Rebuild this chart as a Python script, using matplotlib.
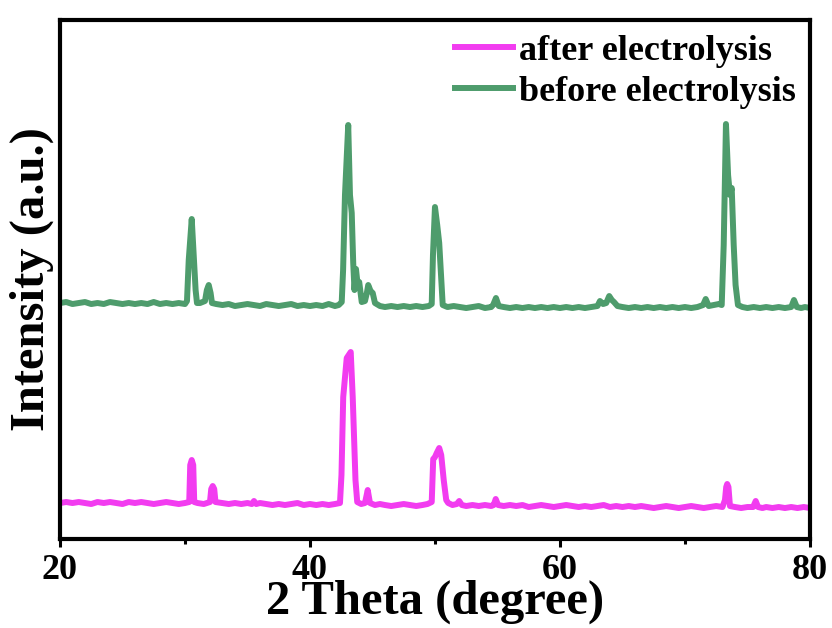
import matplotlib.pyplot as plt
import numpy as np

# 2 theta (degree) / intensity (a.u.) points
before_x = [20.0, 20.5, 21.0, 21.5, 22.0, 22.5, 23.0, 23.5, 24.0, 24.5, 25.0, 25.5, 26.0,
            26.5, 27.0, 27.5, 28.0, 28.5, 29.0, 29.5, 30.0, 30.16, 30.3, 30.54, 30.72,
            30.85, 30.96, 31.2, 31.6, 31.75, 31.9, 32.05, 32.16, 32.5, 33.0, 33.5, 34.0,
            34.5, 35.0, 35.5, 36.0, 36.5, 37.0, 37.5, 38.0, 38.5, 39.0, 39.5, 40.0, 40.5,
            41.0, 41.5, 42.0, 42.3, 42.54, 42.65, 42.8, 43.06, 43.2, 43.34, 43.46, 43.56,
            43.68, 43.8, 43.94, 44.14, 44.4, 44.55, 44.66, 44.85, 45.02, 45.2, 45.6, 46.0,
            46.5, 47.0, 47.5, 48.0, 48.5, 49.0, 49.5, 49.74, 49.84, 50.0, 50.18, 50.34,
            50.48, 50.62, 51.0, 51.5, 52.0, 52.5, 53.0, 53.5, 54.0, 54.5, 54.65, 54.88,
            55.1, 55.5, 56.0, 56.5, 57.0, 57.5, 58.0, 58.5, 59.0, 59.5, 60.0, 60.5, 61.0,
            61.5, 62.0, 62.5, 63.0, 63.2, 63.45, 63.7, 63.94, 64.15, 64.32, 64.6, 65.0,
            65.5, 66.0, 66.5, 67.0, 67.5, 68.0, 68.5, 69.0, 69.5, 70.0, 70.5, 71.0, 71.45,
            71.66, 71.9, 72.3, 72.7, 72.94, 73.1, 73.28, 73.45, 73.6, 73.74, 73.9, 74.05,
            74.24, 74.6, 75.0, 75.5, 76.0, 76.5, 77.0, 77.5, 78.0, 78.5, 78.72, 78.95,
            79.3, 79.6, 80.0]
before_y = [242, 243, 241, 242, 243, 241, 242, 241, 243, 242, 241, 242, 241,
            242, 241, 243, 241, 242, 241, 242, 241, 244, 285, 326, 285,
            255, 242, 242, 244, 255, 260, 252, 242, 241, 240, 241, 239,
            240, 241, 240, 239, 241, 240, 239, 240, 241, 239, 240, 239, 240,
            239, 241, 239, 240, 243, 275, 350, 420, 350, 332, 282, 255,
            276, 262, 263, 243, 244, 252, 260, 254, 252, 242, 239, 238,
            239, 238, 239, 238, 239, 238, 239, 241, 290, 338, 320, 302,
            270, 240, 238, 239, 238, 237, 238, 239, 237, 238, 240, 247,
            239, 238, 237, 238, 237, 238, 237, 238, 237, 238, 237, 238, 237,
            238, 237, 238, 239, 244, 241, 242, 249, 245, 243, 239, 238,
            237, 238, 237, 238, 237, 238, 237, 238, 237, 238, 237, 238, 240,
            246, 239, 240, 241, 240, 300, 421, 370, 350, 357, 300, 260,
            240, 238, 237, 238, 237, 238, 237, 238, 237, 238, 245, 238,
            237, 238, 237]

after_x = [20.0, 20.5, 21.0, 21.5, 22.0, 22.5, 23.0, 23.5, 24.0, 24.5, 25.0, 25.5, 26.0,
           26.5, 27.0, 27.5, 28.0, 28.5, 29.0, 29.5, 30.0, 30.34, 30.42, 30.54, 30.66,
           30.74, 31.0, 31.5, 32.0, 32.1, 32.22, 32.34, 32.44, 33.0, 33.5, 34.0, 34.5,
           35.0, 35.35, 35.52, 35.7, 36.0, 36.5, 37.0, 37.5, 38.0, 38.5, 39.0, 39.5, 40.0,
           40.5, 41.0, 41.5, 42.0, 42.4, 42.52, 42.66, 42.94, 43.1, 43.26, 43.42, 43.64,
           43.78, 44.1, 44.4, 44.62, 44.8, 45.2, 45.6, 46.0, 46.5, 47.0, 47.5, 48.0, 48.5,
           49.0, 49.4, 49.74, 49.8, 49.86, 50.0, 50.14, 50.34, 50.5, 50.7, 50.9, 51.06,
           51.4, 51.75, 51.94, 52.15, 52.5, 53.0, 53.5, 54.0, 54.5, 54.7, 54.86, 55.05,
           55.5, 56.0, 56.5, 57.0, 57.5, 58.0, 58.5, 59.0, 59.5, 60.0, 60.5, 61.0, 61.5,
           62.0, 62.5, 63.0, 63.5, 64.0, 64.5, 65.0, 65.5, 66.0, 66.5, 67.0, 67.5, 68.0,
           68.5, 69.0, 69.5, 70.0, 70.5, 71.0, 71.5, 72.0, 72.5, 73.0, 73.2, 73.3, 73.38,
           73.48, 73.6, 74.0, 74.5, 75.0, 75.45, 75.66, 75.85, 76.2, 76.5, 77.0, 77.5,
           78.0, 78.5, 79.0, 79.5, 80.0]
after_y = [42, 43, 42, 43, 42, 41, 43, 42, 43, 42, 41, 43, 42,
           43, 42, 41, 42, 43, 42, 41, 42, 43, 80, 85, 80,
           43, 42, 41, 43, 56, 59, 56, 43, 42, 41, 42, 41,
           42, 41, 44, 41, 42, 41, 40, 41, 40, 41, 42, 40, 41,
           40, 41, 40, 41, 42, 70, 148, 187, 190, 193, 148, 65,
           43, 41, 42, 55, 42, 40, 41, 40, 39, 40, 41, 40, 39,
           40, 41, 43, 65, 86, 88, 92, 97, 90, 65, 45, 42,
           40, 41, 44, 40, 39, 40, 39, 40, 39, 40, 46, 40,
           39, 40, 39, 40, 38, 39, 40, 39, 38, 39, 40, 39, 38,
           39, 38, 39, 40, 38, 39, 38, 39, 38, 39, 38, 37, 38,
           39, 38, 37, 38, 39, 38, 37, 38, 39, 38, 45, 58, 61,
           58, 39, 38, 37, 38, 38, 44, 38, 37, 38, 37, 38,
           37, 38, 37, 38, 37]

labels = ['after electrolysis', 'before electrolysis']
xticks = [20, 40, 60, 80]

plt.rcParams['font.family'] = ['Liberation Serif', 'DejaVu Serif']
plt.rcParams['font.weight'] = 'bold'

fig = plt.figure(figsize=(8.32, 6.28), dpi=100)
ax = fig.add_axes([0.0721, 0.1417, 0.9014, 0.8264])

ax.plot(after_x, after_y, color='#F23CF0', lw=4.3, label=labels[0])
ax.plot(before_x, before_y, color='#4E9C6C', lw=4.3, label=labels[1])

ax.set_xlim(20, 80)
ax.set_ylim(6, 525)
ax.set_xticks(xticks)
ax.set_xticks([30, 50, 70], minor=True)
ax.set_yticks([])
ax.tick_params(axis='x', which='major', direction='out', length=5.5, width=2.2,
               labelsize=26, pad=5)
ax.tick_params(axis='x', which='minor', direction='out', length=3.5, width=2.2)
for s in ax.spines.values():
    s.set_linewidth(3)

ax.set_xlabel('2 Theta (degree)', fontsize=35, fontweight='bold', labelpad=-5)
ax.set_ylabel('Intensity (a.u.)', fontsize=35, fontweight='bold', labelpad=4)

ax.legend(loc='upper right', bbox_to_anchor=(1.0, 1.0), frameon=False, fontsize=26,
          handlelength=1.6, handletextpad=0.15, labelspacing=0.22, borderaxespad=0.0)

fig.savefig('out.png', dpi=100)
